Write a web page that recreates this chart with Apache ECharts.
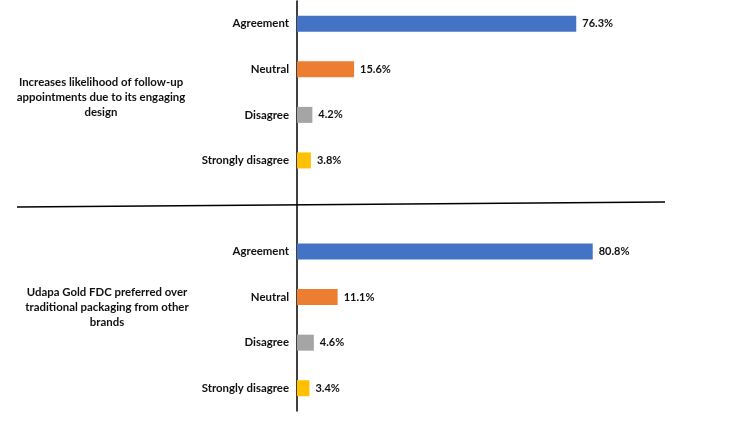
<!DOCTYPE html>
<html>
<head>
<meta charset="utf-8">
<script src="https://cdn.jsdelivr.net/npm/echarts@6/dist/echarts.min.js"></script>
<style>
  html, body { margin: 0; padding: 0; background: #fff; }
  #chart { width: 750px; height: 429px; }
</style>
</head>
<body>
<div id="chart"></div>
<script>
// data
var responses = ['Agreement', 'Neutral', 'Disagree', 'Strongly disagree'];
var likelihoodValues = [76.3, 15.6, 4.2, 3.8];
var preferenceValues = [80.8, 11.1, 4.6, 3.4];
var groupTitles = [
    'Increases likelihood of follow-up\nappointments due to its engaging\ndesign',
    'Udapa Gold FDC preferred over\ntraditional packaging from other\nbrands'
];

var colors = ['#4472C4', '#ED7D31', '#A5A5A5', '#FFC000'];
var font = 'Lato';

document.addEventListener('DOMContentLoaded', function () {
    // one category axis: group 1, an empty slot for the divider, group 2
    var categories = responses.concat(['']).concat(responses);
    var barData = [];
    likelihoodValues.forEach(function (v, i) {
        barData.push({ value: v, itemStyle: { color: colors[i] } });
    });
    barData.push('-');
    preferenceValues.forEach(function (v, i) {
        barData.push({ value: v, itemStyle: { color: colors[i] } });
    });

    var myChart = echarts.init(document.getElementById('chart'));
    myChart.setOption({
        animation: false,
        grid: { left: 297, right: 87, top: 1, bottom: 18, containLabel: false },
        xAxis: {
            type: 'value',
            min: 0,
            max: 100,
            show: false
        },
        yAxis: {
            type: 'category',
            inverse: true,
            data: categories,
            axisLine: { lineStyle: { color: '#000', width: 1.5 } },
            axisTick: { show: false },
            axisLabel: {
                color: '#111',
                fontFamily: font,
                fontWeight: 'bold',
                fontSize: 11.4,
                margin: 8
            }
        },
        series: [{
            type: 'bar',
            data: barData,
            barWidth: 16,
            label: {
                show: true,
                position: 'right',
                distance: 6,
                color: '#111',
                fontFamily: font,
                fontWeight: 'bold',
                fontSize: 11,
                formatter: function (p) { return p.value + '%'; }
            }
        }],
        graphic: [
            {
                type: 'line',
                shape: { x1: 17, y1: 207, x2: 665, y2: 202 },
                style: { stroke: '#000', lineWidth: 1.5 }
            },
            {
                type: 'text',
                x: 101, y: 97,
                style: {
                    text: groupTitles[0],
                    align: 'center', verticalAlign: 'middle',
                    font: 'bold 11.4px ' + font, lineHeight: 15, fill: '#111'
                }
            },
            {
                type: 'text',
                x: 107, y: 307,
                style: {
                    text: groupTitles[1],
                    align: 'center', verticalAlign: 'middle',
                    font: 'bold 11.4px ' + font, lineHeight: 15, fill: '#111'
                }
            }
        ]
    });
});
</script>
</body>
</html>
